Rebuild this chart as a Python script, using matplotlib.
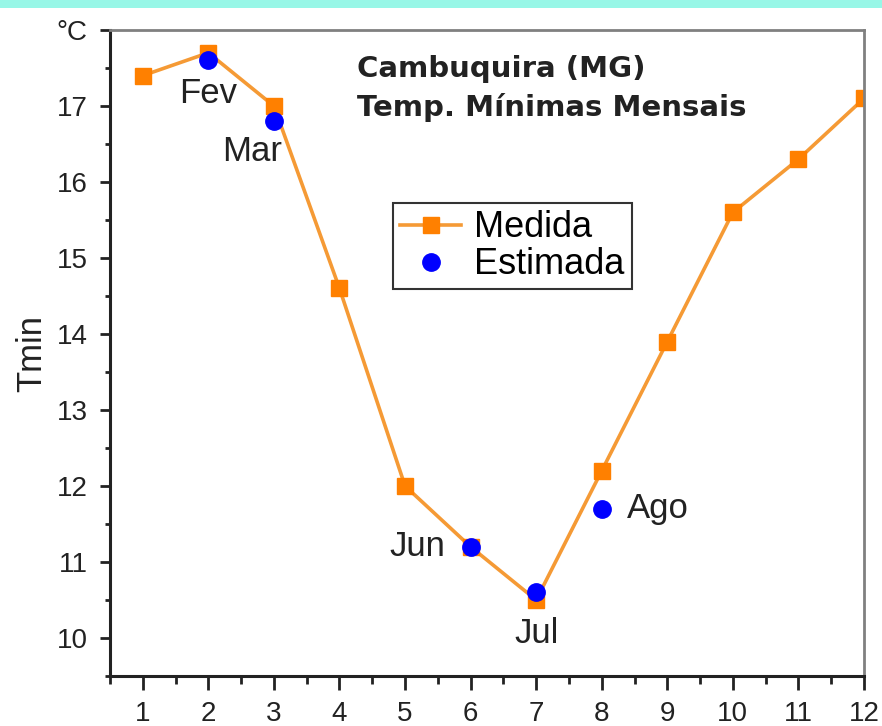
import matplotlib
matplotlib.use("Agg")
import matplotlib.pyplot as plt
from matplotlib.patches import Rectangle
from matplotlib.ticker import MultipleLocator, FixedLocator

plt.rcParams['font.family'] = ['Liberation Sans', 'DejaVu Sans']

months = [1, 2, 3, 4, 5, 6, 7, 8, 9, 10, 11, 12]
tmin_medida = [17.4, 17.7, 17.0, 14.6, 12.0, 11.2, 10.5, 12.2, 13.9, 15.6, 16.3, 17.1]

est_months = [2, 3, 6, 7, 8]
tmin_estimada = [17.6, 16.8, 11.2, 10.6, 11.7]
est_names = ["Fev", "Mar", "Jun", "Jul", "Ago"]

y_ticks = [10, 11, 12, 13, 14, 15, 16, 17, 18]
y_ticklabels = ["10", "11", "12", "13", "14", "15", "16", "17", "°C"]

orange = "#FF8000"
line_orange = "#F59A35"
blue = "#0000FF"
ink = "#222222"

fig = plt.figure(figsize=(8.82, 7.26), dpi=100)
fig.patch.set_facecolor("white")
fig.patches.append(Rectangle((0, 1 - 8 / 726), 1, 8 / 726, transform=fig.transFigure,
                             facecolor="#98F7E7", edgecolor="none", zorder=0))

ax = fig.add_axes([110 / 882, 50 / 726, 754 / 882, 646 / 726])

ax.plot(months, tmin_medida, color=line_orange, lw=2.6, marker="s", markersize=12,
        markerfacecolor=orange, markeredgecolor=orange, label="Medida", zorder=2)
ax.plot(est_months, tmin_estimada, ls="none", marker="o", markersize=12.5,
        markerfacecolor=blue, markeredgecolor=blue, label="Estimada", zorder=3)

# month name annotations next to the estimated points
offsets = {"Fev": (0, -12, "center", "top"),
           "Mar": (-16, -10, "center", "top"),
           "Jun": (-18, 0, "right", "center"),
           "Jul": (0, -18, "center", "top"),
           "Ago": (18, 0, "left", "center")}
for m, v, name in zip(est_months, tmin_estimada, est_names):
    dx, dy, ha, va = offsets[name]
    ax.annotate(name, (m, v), xytext=(dx, dy), textcoords="offset points",
                ha=ha, va=va, fontsize=25, color=ink)

ax.set_xlim(0.5, 12)
ax.set_ylim(9.5, 18)
ax.xaxis.set_major_locator(FixedLocator(months))
ax.xaxis.set_minor_locator(MultipleLocator(0.5))
ax.yaxis.set_major_locator(FixedLocator(y_ticks))
ax.yaxis.set_minor_locator(MultipleLocator(0.5))
ax.set_yticklabels(y_ticklabels)

ax.tick_params(axis="both", which="major", direction="out", width=2,
               labelsize=20, colors=ink)
ax.tick_params(axis="x", which="major", length=10, pad=8)
ax.tick_params(axis="y", which="major", length=7, pad=9)
ax.tick_params(axis="x", which="minor", direction="out", length=6, width=2, colors=ink)
ax.tick_params(axis="y", which="minor", direction="out", length=3.5, width=2, colors=ink)

for side in ("left", "bottom"):
    ax.spines[side].set_linewidth(2.2)
    ax.spines[side].set_color(ink)
for side in ("top", "right"):
    ax.spines[side].set_linewidth(2.0)
    ax.spines[side].set_color("#808080")

ax.set_ylabel("Tmin", fontsize=25, color=ink, labelpad=6)

ax.text(0.328, 0.962, "Cambuquira (MG)", transform=ax.transAxes, fontsize=21,
        fontweight="bold", family="DejaVu Sans", va="top", ha="left", color=ink)
ax.text(0.328, 0.902, "Temp. Mínimas Mensais", transform=ax.transAxes, fontsize=21,
        fontweight="bold", family="DejaVu Sans", va="top", ha="left", color=ink)

leg = ax.legend(loc="upper left", bbox_to_anchor=(0.375, 0.732), fontsize=26,
                frameon=True, fancybox=False, edgecolor="#333333", framealpha=1,
                handlelength=1.7, handletextpad=0.35, borderpad=0.2, labelspacing=0.05,
                borderaxespad=0)
leg.get_frame().set_linewidth(1.5)

fig.savefig("out.png", dpi=100)
